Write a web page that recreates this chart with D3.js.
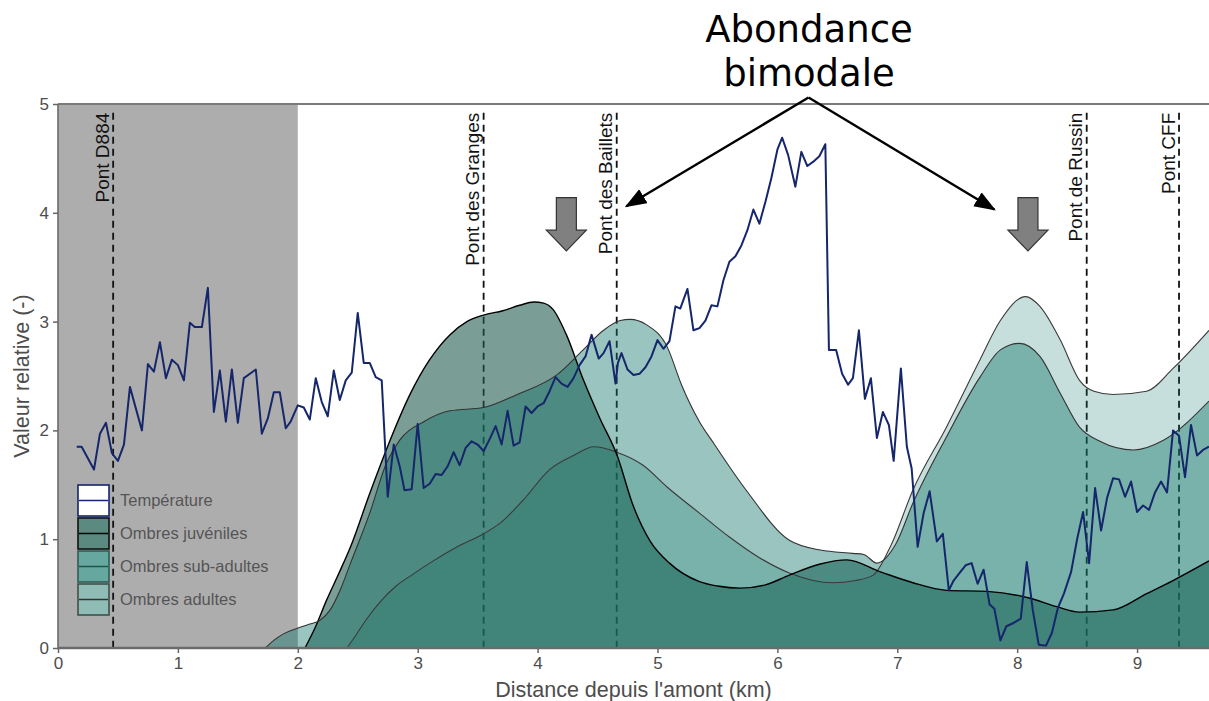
<!DOCTYPE html>
<html>
<head>
<meta charset="utf-8">
<script src="https://cdn.jsdelivr.net/npm/d3@7"></script>
<style>
  body { margin: 0; background: #fff; }
  svg { display: block; font-family: "Liberation Sans", Arial, sans-serif; }
</style>
</head>
<body>
<svg id="chart" width="1209" height="701"></svg>
<script>
var width = 1209;
var height = 701;

// temperature profile (relative values)
var tempKm = [0.156,0.197,0.30,0.35,0.40,0.45,0.50,0.55,0.60,0.70,0.75,0.80,0.85,0.90,0.95,1.00,1.05,1.10,1.14,1.20,
  1.25,1.30,1.35,1.40,1.45,1.50,1.55,1.65,1.70,1.75,1.80,1.85,1.90,1.94,2.00,2.05,2.10,2.15,2.20,2.25,
  2.30,2.35,2.40,2.45,2.50,2.55,2.60,2.65,2.70,2.75,2.80,2.85,2.89,2.95,3.00,3.05,3.10,3.15,3.20,3.25,
  3.30,3.35,3.40,3.45,3.50,3.55,3.60,3.65,3.70,3.75,3.80,3.85,3.90,3.95,4.00,4.05,4.10,4.15,4.20,4.25,
  4.30,4.35,4.40,4.45,4.51,4.55,4.60,4.65,4.67,4.70,4.75,4.80,4.85,4.90,4.95,5.00,5.05,5.10,5.15,5.19,
  5.25,5.30,5.35,5.40,5.45,5.50,5.55,5.60,5.65,5.70,5.75,5.80,5.85,5.90,5.95,6.00,6.04,6.09,6.15,6.20,
  6.25,6.30,6.35,6.40,6.43,6.49,6.54,6.59,6.63,6.68,6.73,6.78,6.83,6.88,6.93,6.97,7.03,7.08,7.12,7.17,
  7.22,7.27,7.33,7.38,7.43,7.47,7.52,7.57,7.62,7.67,7.72,7.77,7.81,7.86,7.91,7.97,8.03,8.08,8.13,8.18,
  8.24,8.29,8.34,8.39,8.45,8.50,8.55,8.60,8.65,8.70,8.75,8.80,8.85,8.90,8.95,9.00,9.05,9.10,9.15,9.20,
  9.25,9.30,9.35,9.40,9.45,9.50,9.55,9.60];
var tempVal = [1.85,1.85,1.64,1.97,2.07,1.79,1.72,1.87,2.40,2.00,2.61,2.54,2.81,2.48,2.65,2.60,2.46,2.99,2.95,2.95,
  3.31,2.17,2.55,2.08,2.56,2.07,2.48,2.56,1.97,2.11,2.35,2.35,2.02,2.08,2.23,2.21,2.10,2.48,2.26,2.13,
  2.55,2.28,2.46,2.53,3.08,2.62,2.62,2.49,2.46,1.39,1.87,1.67,1.45,1.46,2.06,1.47,1.51,1.60,1.59,1.67,
  1.80,1.68,1.84,1.90,1.87,1.81,1.92,2.04,1.87,2.18,1.86,1.89,2.22,2.16,2.22,2.25,2.36,2.49,2.43,2.40,
  2.48,2.60,2.68,2.88,2.66,2.71,2.82,2.43,2.62,2.71,2.56,2.51,2.52,2.58,2.68,2.83,2.75,2.82,3.14,3.12,
  3.30,2.92,2.94,3.01,3.15,3.14,3.38,3.55,3.60,3.70,3.84,4.03,3.90,4.10,4.32,4.58,4.69,4.53,4.24,4.56,
  4.43,4.47,4.52,4.63,2.74,2.74,2.52,2.42,2.48,2.92,2.29,2.48,1.93,2.17,2.05,1.72,2.57,1.85,1.65,0.93,
  1.24,1.44,0.98,1.05,0.53,0.62,0.69,0.76,0.78,0.59,0.72,0.40,0.36,0.07,0.20,0.23,0.27,0.79,0.35,0.03,
  0.02,0.14,0.37,0.50,0.70,1.00,1.25,0.78,1.47,1.08,1.38,1.56,1.55,1.39,1.53,1.25,1.31,1.27,1.43,1.53,
  1.43,2.00,1.95,1.57,2.05,1.77,1.82,1.85];

// abundance curves
var juvKm  = [2.06,2.15,2.24,2.34,2.44,2.60,2.77,2.94,3.10,3.27,3.41,3.55,3.71,3.85,3.97,4.05,4.13,4.24,4.38,4.52,
  4.66,4.80,4.94,5.10,5.35,5.50,5.69,5.90,6.10,6.35,6.58,6.86,7.13,7.41,7.75,8.10,8.33,8.52,8.80,9.08,9.30,9.60];
var juvVal = [0,0.20,0.44,0.68,0.93,1.42,1.91,2.34,2.65,2.88,3.00,3.06,3.10,3.15,3.18,3.17,3.11,2.88,2.47,2.11,
  1.78,1.30,0.98,0.78,0.61,0.57,0.55,0.58,0.67,0.77,0.81,0.70,0.60,0.53,0.52,0.46,0.38,0.33,0.35,0.50,0.62,0.80];

var subKm  = [2.41,2.48,2.57,2.70,2.82,2.95,3.10,3.33,3.55,3.69,3.88,4.10,4.30,4.47,4.66,4.88,5.08,5.35,5.60,5.85,
  6.10,6.46,6.65,6.80,6.95,7.13,7.41,7.69,7.86,8.07,8.19,8.36,8.52,8.64,8.80,9.08,9.30,9.60];
var subVal = [0,0.11,0.26,0.44,0.57,0.67,0.78,0.93,1.05,1.15,1.36,1.64,1.77,1.85,1.80,1.68,1.48,1.24,1.02,0.83,
  0.69,0.60,0.62,0.67,0.95,1.45,2.03,2.65,3.01,3.23,3.14,2.83,2.46,2.36,2.33,2.36,2.57,2.92];

var adultKm  = [1.73,1.80,1.88,1.99,2.10,2.18,2.27,2.36,2.44,2.60,2.74,2.85,3.05,3.27,3.55,3.83,4.16,4.38,4.55,4.69,
  4.77,4.91,5.08,5.20,5.35,5.47,5.74,6.10,6.36,6.63,6.72,6.83,6.99,7.13,7.41,7.69,7.86,8.02,8.19,8.36,
  8.52,8.69,8.97,9.22,9.60];
var adultVal = [0,0.07,0.13,0.18,0.22,0.25,0.35,0.55,0.78,1.24,1.70,1.91,2.08,2.18,2.21,2.33,2.51,2.74,2.92,3.01,
  3.02,2.97,2.77,2.42,2.08,1.88,1.45,0.99,0.90,0.87,0.86,0.78,0.96,1.33,1.94,2.49,2.74,2.80,2.68,2.34,
  2.03,1.90,1.82,1.91,2.27];

var bridgeNames = ["Pont D884", "Pont des Granges", "Pont des Baillets", "Pont de Russin", "Pont CFF"];
var bridgeKm = [0.46, 3.55, 4.66, 8.58, 9.35];

var xTicks = [0, 1, 2, 3, 4, 5, 6, 7, 8, 9];
var yTicks = [0, 1, 2, 3, 4, 5];
var legendLabels = ["Température", "Ombres juvéniles", "Ombres sub-adultes", "Ombres adultes"];

var x = d3.scaleLinear().domain([0, 9.6]).range([58, 1209]);
var y = d3.scaleLinear().domain([0, 5]).range([648, 104]);

var svg = d3.select("#chart");

function pts(xs, ys) {
  return xs.map(function(d, i) { return [d, ys[i]]; });
}

// shaded upstream zone
svg.append("rect")
  .attr("x", x(0)).attr("y", y(5))
  .attr("width", x(2) - x(0)).attr("height", y(0) - y(5))
  .attr("fill", "#adadad");

// bridges (drawn below the areas)
svg.selectAll(".bridge").data(bridgeKm).enter().append("line")
  .attr("x1", function(d) { return x(d); }).attr("x2", function(d) { return x(d); })
  .attr("y1", y(4.92)).attr("y2", y(0))
  .attr("stroke", "#111").attr("stroke-width", 1.8)
  .attr("stroke-dasharray", "7,5");

var area = d3.area()
  .x(function(d) { return x(d[0]); })
  .y0(y(0))
  .y1(function(d) { return y(d[1]); })
  .curve(d3.curveMonotoneX);
var line = d3.line()
  .x(function(d) { return x(d[0]); })
  .y(function(d) { return y(d[1]); })
  .curve(d3.curveMonotoneX);

var series = [
  { pts: pts(subKm, subVal), fill: "#0f7367", op: 0.23, stroke: "#3a3a3a", sw: 1.1 },
  { pts: pts(juvKm, juvVal), fill: "#215d50", op: 0.6, stroke: "#000", sw: 1.4 },
  { pts: pts(adultKm, adultVal), fill: "#0f7367", op: 0.42, stroke: "#333", sw: 1.1 }
];

series.forEach(function(s) {
  svg.append("path").datum(s.pts).attr("d", area)
    .attr("fill", s.fill).attr("fill-opacity", s.op);
});
series.forEach(function(s) {
  svg.append("path").datum(s.pts).attr("d", line)
    .attr("fill", "none").attr("stroke", s.stroke).attr("stroke-width", s.sw);
});

// temperature
svg.append("path").datum(pts(tempKm, tempVal))
  .attr("d", d3.line().x(function(d) { return x(d[0]); }).y(function(d) { return y(d[1]); }))
  .attr("fill", "none").attr("stroke", "#15266b").attr("stroke-width", 2)
  .attr("stroke-linejoin", "round");

// bridge labels
svg.selectAll(".blabel").data(bridgeKm).enter().append("text")
  .attr("transform", function(d) { return "translate(" + (x(d) - 4.5) + "," + y(4.92) + ") rotate(-90)"; })
  .attr("text-anchor", "end")
  .attr("font-size", 19)
  .attr("fill", "#111")
  .text(function(d, i) { return bridgeNames[i]; });

// panel frame
svg.append("line").attr("x1", x(0)).attr("x2", x(9.6)).attr("y1", y(5)).attr("y2", y(5))
  .attr("stroke", "#7a7a7a").attr("stroke-width", 2);

// axes
var xAxis = svg.append("g").attr("transform", "translate(0," + y(0) + ")")
  .call(d3.axisBottom(x).tickValues(xTicks).tickSize(5).tickPadding(4).tickFormat(d3.format("d")));
var yAxis = svg.append("g").attr("transform", "translate(" + x(0) + ",0)")
  .call(d3.axisLeft(y).tickValues(yTicks).tickSize(5).tickPadding(4).tickFormat(d3.format("d")));
[xAxis, yAxis].forEach(function(g) {
  g.select(".domain").remove();
  g.selectAll(".tick line").attr("stroke", "#666").attr("stroke-width", 1.5);
  g.selectAll(".tick text").attr("font-size", 17).attr("fill", "#4d4d4d")
    .attr("font-family", "Liberation Sans, Arial, sans-serif");
});
svg.append("line").attr("x1", x(0)).attr("x2", x(0)).attr("y1", y(5)).attr("y2", y(0))
  .attr("stroke", "#6b6b6b").attr("stroke-width", 1.6);
svg.append("line").attr("x1", x(0)).attr("x2", x(9.6)).attr("y1", y(0)).attr("y2", y(0))
  .attr("stroke", "#6b6b6b").attr("stroke-width", 2.6);

svg.append("text")
  .attr("x", (x(0) + x(9.6)) / 2).attr("y", 697)
  .attr("text-anchor", "middle").attr("font-size", 21.5).attr("fill", "#4d4d4d")
  .text("Distance depuis l'amont (km)");
svg.append("text")
  .attr("transform", "translate(29," + ((y(0) + y(5)) / 2) + ") rotate(-90)")
  .attr("text-anchor", "middle").attr("font-size", 21.5).attr("fill", "#4d4d4d")
  .text("Valeur relative (-)");

// legend
var keyFill = ["#ffffff", "#5a8a80", "#66a89f", "#8fbdb6"];
var keyStroke = ["#15266b", "#111", "#2f5d55", "#3f4f4c"];
var keyLine = ["#15266b", "#000", "#1f544b", "#333"];
var leg = svg.append("g").attr("transform", "translate(78,485)");
legendLabels.forEach(function(lab, i) {
  var g = leg.append("g").attr("transform", "translate(0," + (i * 33) + ")");
  g.append("rect").attr("width", 31).attr("height", 31)
    .attr("fill", keyFill[i]).attr("stroke", keyStroke[i]).attr("stroke-width", 1.6);
  g.append("line").attr("x1", 1).attr("x2", 30).attr("y1", 15.5).attr("y2", 15.5)
    .attr("stroke", keyLine[i]).attr("stroke-width", 1.5);
  g.append("text").attr("x", 42).attr("y", 21).attr("font-size", 16.5).attr("fill", "#555")
    .text(lab);
});

// block arrows marking the two modes
var modeKm = [4.24, 8.09];
svg.selectAll(".mode").data(modeKm).enter().append("path")
  .attr("d", function(d) {
    var cx = x(d), t = y(4.14), h = y(3.84), b = y(3.65);
    return "M" + (cx - 10) + "," + t + "H" + (cx + 10) + "V" + h + "H" + (cx + 20) +
      "L" + cx + "," + b + "L" + (cx - 20) + "," + h + "H" + (cx - 10) + "Z";
  })
  .attr("fill", "#808080").attr("stroke", "#333").attr("stroke-width", 1.2);

// annotation
svg.append("defs").append("marker")
  .attr("id", "head").attr("viewBox", "0 0 12 9").attr("refX", 11).attr("refY", 4.5)
  .attr("markerWidth", 9).attr("markerHeight", 7).attr("markerUnits", "strokeWidth")
  .attr("orient", "auto")
  .append("path").attr("d", "M0,0L12,4.5L0,9Z").attr("fill", "#000");

var annX = 6.26, annY = 5.06;
[[4.74, 4.06], [7.81, 4.03]].forEach(function(p) {
  svg.append("line")
    .attr("x1", x(annX)).attr("y1", y(annY)).attr("x2", x(p[0])).attr("y2", y(p[1]))
    .attr("stroke", "#000").attr("stroke-width", 2.4).attr("marker-end", "url(#head)");
});
var ann = svg.append("text").attr("text-anchor", "middle")
  .attr("font-family", "DejaVu Sans, Verdana, sans-serif").attr("font-size", 37).attr("fill", "#000");
ann.append("tspan").attr("x", 809).attr("y", 42).text("Abondance");
ann.append("tspan").attr("x", 809).attr("y", 86).text("bimodale");
</script>
</body>
</html>
